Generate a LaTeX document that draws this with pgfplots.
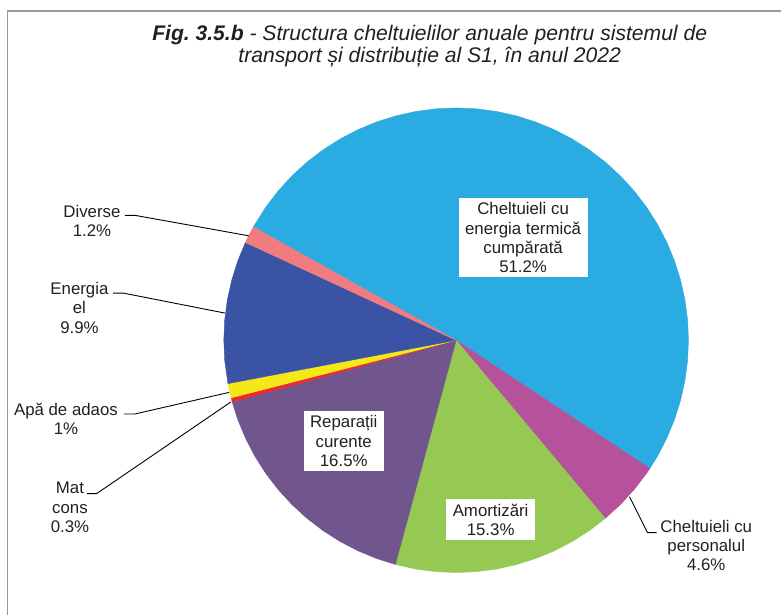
\documentclass[border=0pt]{standalone}
\usepackage{pgfplots}
\pgfplotsset{compat=1.18}
\usepackage{fontspec}
\setmainfont{Liberation Sans}
\frenchspacing

\definecolor{cTerm}{HTML}{2AACE2}
\definecolor{cPers}{HTML}{B6529C}
\definecolor{cAmort}{HTML}{95C954}
\definecolor{cRep}{HTML}{71568E}
\definecolor{cMat}{HTML}{EE2A30}
\definecolor{cApa}{HTML}{F5E81A}
\definecolor{cEl}{HTML}{3A53A4}
\definecolor{cDiv}{HTML}{F07C82}
\definecolor{cTxt}{HTML}{231F20}

\begin{document}
\begin{tikzpicture}[
  lbl/.style={font=\fontsize{16.9}{19.4}\selectfont, text=cTxt, align=center, anchor=center, inner sep=0pt},
  box/.style={lbl, fill=white, inner xsep=6.5bp, inner ysep=4.5bp},
  lead/.style={black, line width=0.9bp},
]
\begin{axis}[
  x=1bp, y=1bp,
  xmin=-456.5, xmax=325.5,
  ymin=-274.5, ymax=340.5,
  hide axis,
  clip=false,
  data cs=polar,
]
% slices, clockwise from 150.8 deg; shares: 51.2, 4.6, 15.3, 16.5, 0.3, 1, 9.9, 1.2 %
% Cheltuieli cu energia termica cumparata 51.2%
\addplot[fill=cTerm, draw=cTerm, line width=0.4bp] coordinates {
  (0,0) (150.8,232.5) (145,232.5) (140,232.5) (135,232.5) (130,232.5)
  (125,232.5) (120,232.5) (115,232.5) (110,232.5) (105,232.5) (100,232.5)
  (95,232.5) (90,232.5) (85,232.5) (80,232.5) (75,232.5) (70,232.5)
  (65,232.5) (60,232.5) (55,232.5) (50,232.5) (45,232.5) (40,232.5)
  (35,232.5) (30,232.5) (25,232.5) (20,232.5) (15,232.5) (10,232.5)
  (5,232.5) (0,232.5) (-5,232.5) (-10,232.5) (-15,232.5) (-20,232.5)
  (-25,232.5) (-30,232.5) (-33.52,232.5) (0,0)
};
% Cheltuieli cu personalul 4.6%
\addplot[fill=cPers, draw=cPers, line width=0.4bp] coordinates {
  (0,0) (-33.52,232.5) (-35,232.5) (-40,232.5) (-45,232.5) (-50.08,232.5) (0,0)
};
% Amortizari 15.3%
\addplot[fill=cAmort, draw=cAmort, line width=0.4bp] coordinates {
  (0,0) (-50.08,232.5) (-55,232.5) (-60,232.5) (-65,232.5) (-70,232.5)
  (-75,232.5) (-80,232.5) (-85,232.5) (-90,232.5) (-95,232.5) (-100,232.5)
  (-105.16,232.5) (0,0)
};
% Reparatii curente 16.5%
\addplot[fill=cRep, draw=cRep, line width=0.4bp] coordinates {
  (0,0) (-105.16,232.5) (-110,232.5) (-115,232.5) (-120,232.5) (-125,232.5)
  (-130,232.5) (-135,232.5) (-140,232.5) (-145,232.5) (-150,232.5)
  (-155,232.5) (-160,232.5) (-164.56,232.5) (0,0)
};
% Mat cons 0.3%
\addplot[fill=cMat, draw=cMat, line width=0.4bp] coordinates {
  (0,0) (-164.56,232.5) (-165.64,232.5) (0,0)
};
% Apa de adaos 1%
\addplot[fill=cApa, draw=cApa, line width=0.4bp] coordinates {
  (0,0) (-165.64,232.5) (-167.5,232.5) (-169.24,232.5) (0,0)
};
% Energia el 9.9%
\addplot[fill=cEl, draw=cEl, line width=0.4bp] coordinates {
  (0,0) (-169.24,232.5) (-175,232.5) (-180,232.5) (-185,232.5)
  (-190,232.5) (-195,232.5) (-200,232.5) (-204.88,232.5) (0,0)
};
% Diverse 1.2%
\addplot[fill=cDiv, draw=cDiv, line width=0.4bp] coordinates {
  (0,0) (-204.88,232.5) (-207,232.5) (-209.2,232.5) (0,0)
};

% frame
\draw[gray!80, line width=1.2bp] (axis cs:-449,-274.5) -- (axis cs:-449,329.5) -- (axis cs:325.5,329.5);
\path (rel axis cs:0,0) rectangle (rel axis cs:1,1);

% title
\node[font=\fontsize{21.2}{23}\selectfont, text=cTxt, anchor=base] at (axis cs:-26.5,299.8)
  {\bfseries\itshape Fig. 3.5.b\mdseries\ - Structura cheltuielilor anuale pentru sistemul de};
\node[font=\fontsize{21.2}{23}\selectfont\itshape, text=cTxt, anchor=base] at (axis cs:-26.5,277.8)
  {transport și distribuție al S1, în anul 2022};

% labels inside
\node[box] at (axis cs:67,102.5) {Cheltuieli cu\\energia termică\\cumpărată\\51.2\%};
\node[box] at (axis cs:-112.5,-101) {Reparații\\curente\\16.5\%};
\node[box] at (axis cs:34.5,-179.5) {Amortizări\\15.3\%};

% labels outside with leaders
\draw[lead] (axis cs:-331.5,125) -- (axis cs:-321.5,125) -- (axis cs:-207.5,104.5);
\node[lbl] at (axis cs:-364.5,119.5) {Diverse\\1.2\%};
\draw[lead] (axis cs:-343.2,47.2) -- (axis cs:-333.2,47.2) -- (axis cs:-231.5,27.2);
\node[lbl] at (axis cs:-377,32.5) {Energia\\el\\9.9\%};
\draw[lead] (axis cs:-332.5,-73.8) -- (axis cs:-321.5,-73.8) -- (axis cs:-227.2,-52.2);
\node[lbl] at (axis cs:-390.5,-78.5) {Apă de adaos\\1\%};
\draw[lead] (axis cs:-369.2,-153.5) -- (axis cs:-359.8,-153.5) -- (axis cs:-225.5,-61.8);
\node[lbl] at (axis cs:-386.5,-167.5) {Mat\\cons\\0.3\%};
\draw[lead] (axis cs:173.5,-156.5) -- (axis cs:191.5,-192.5) -- (axis cs:200.5,-192.5);
\node[lbl] at (axis cs:250.3,-205.3) {Cheltuieli cu\\personalul\\4.6\%};
\end{axis}
\end{tikzpicture}
\end{document}
